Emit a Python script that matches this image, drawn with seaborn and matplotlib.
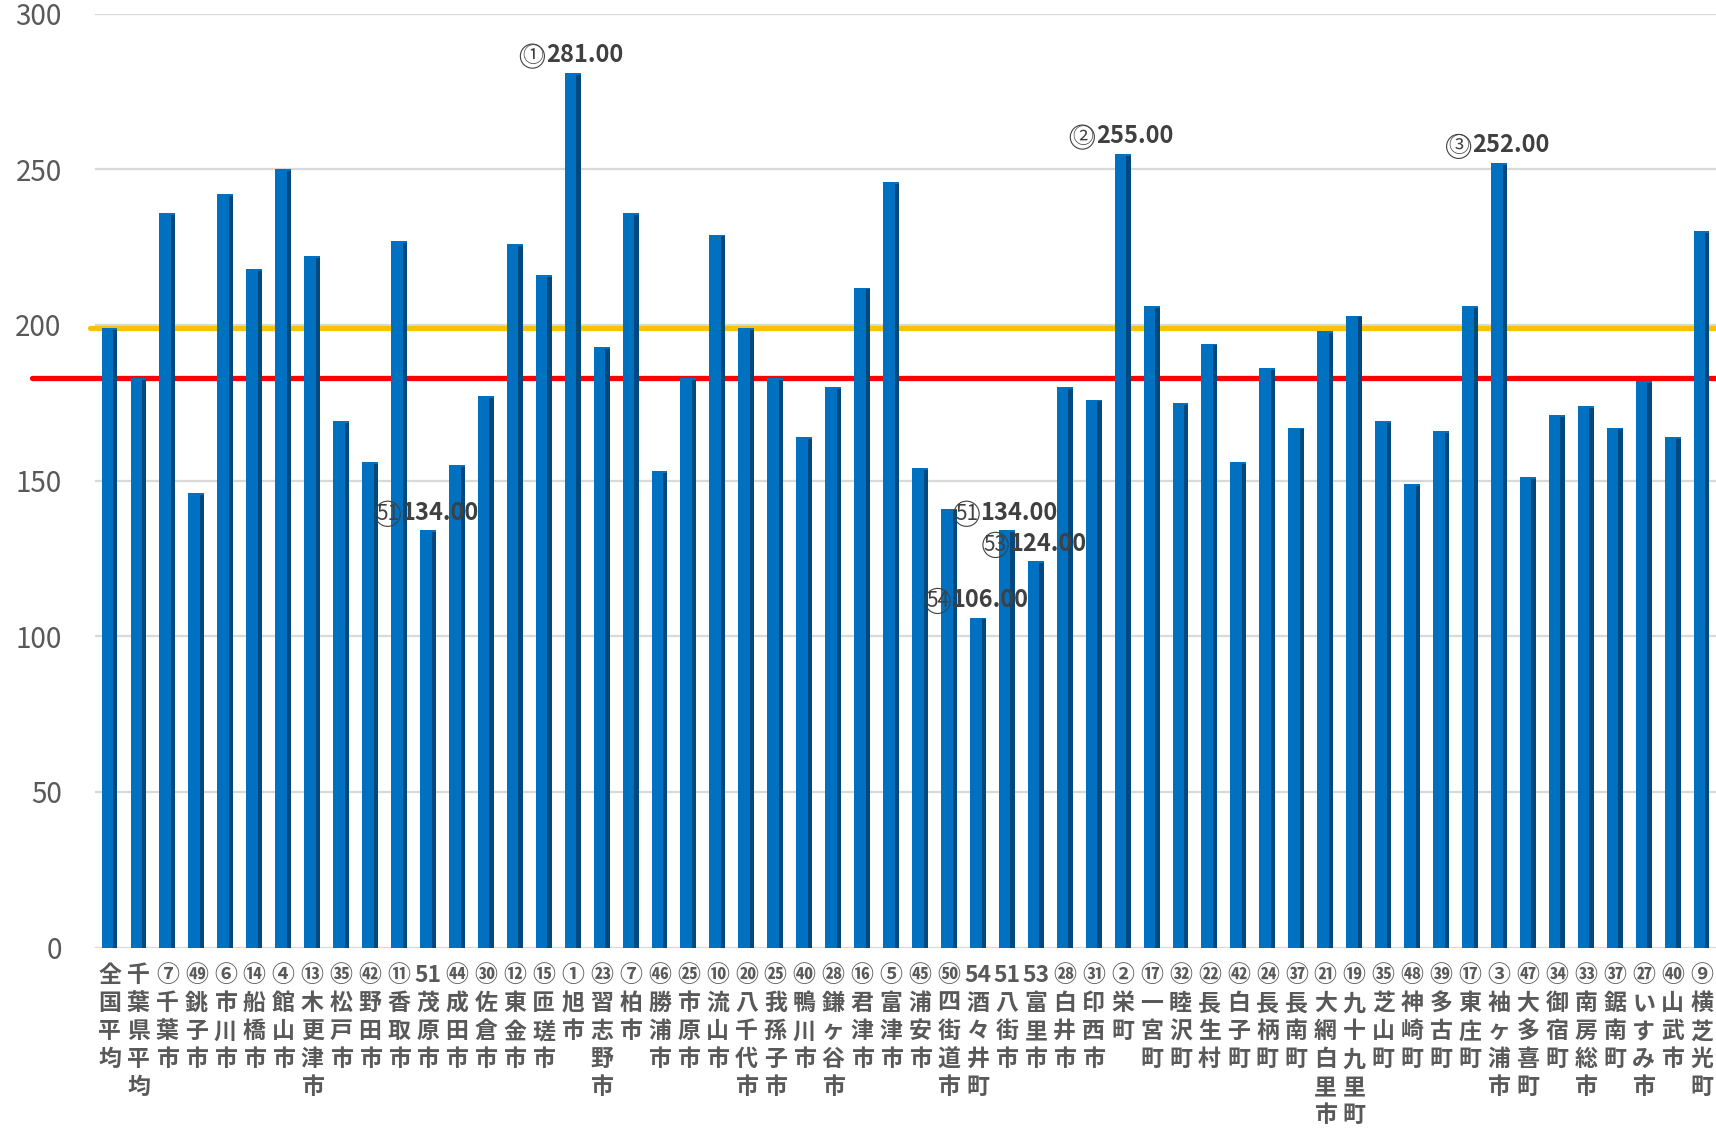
import matplotlib
matplotlib.use("Agg")
import matplotlib.pyplot as plt
import numpy as np
import pandas as pd
import seaborn as sns

# ── Data ──────────────────────────────────────────────────────────────────────

ranks = [
    "", "", "⑦", "㊾", "⑥", "⑭", "④", "⑬", "㉟", "㊷",
    "⑪", "51", "㊹", "㉚", "⑫", "⑮", "①", "㉓", "⑦", "㊻",
    "㉕", "⑩", "⑳", "㉕", "㊵", "㉘", "⑯", "⑤", "㊺", "㊿",
    "54", "51", "53", "㉘", "㉛", "②", "⑰", "㉜", "㉒", "㊷",
    "㉔", "㊲", "㉑", "⑲", "㉟", "㊽", "㊴", "⑰", "③", "㊼",
    "㉞", "㉝", "㊲", "㉗", "㊵", "⑨",
]

names = [
    "全国平均", "千葉県平均", "千葉市", "銚子市", "市川市", "船橋市", "館山市", "木更津市", "松戸市", "野田市",
    "香取市", "茂原市", "成田市", "佐倉市", "東金市", "匝瑳市", "旭市", "習志野市", "柏市", "勝浦市",
    "市原市", "流山市", "八千代市", "我孫子市", "鴨川市", "鎌ヶ谷市", "君津市", "富津市", "浦安市", "四街道市",
    "酒々井町", "八街市", "富里市", "白井市", "印西市", "栄町", "一宮町", "睦沢町", "長生村", "白子町",
    "長柄町", "長南町", "大網白里市", "九十九里町", "芝山町", "神崎町", "多古町", "東庄町", "袖ヶ浦市", "大多喜町",
    "御宿町", "南房総市", "鋸南町", "いすみ市", "山武市", "横芝光町",
]

values = [
    199, 183, 236, 146, 242, 218, 250, 222, 169, 156,
    227, 134, 155, 177, 226, 216, 281, 193, 236, 153,
    183, 229, 199, 183, 164, 180, 212, 246, 154, 141,
    106, 134, 124, 180, 176, 255, 206, 175, 194, 156,
    186, 167, 198, 203, 169, 149, 166, 206, 252, 151,
    171, 174, 167, 182, 164, 230,
]

# bars that carry a value label (top 3 and bottom 4)
labelled = ["旭市", "栄町", "袖ヶ浦市", "茂原市", "八街市", "富里市", "酒々井町"]

yticks = [0, 50, 100, 150, 200, 250, 300]

# ── Plot ──────────────────────────────────────────────────────────────────────

sns.set_theme(style="white")
plt.rcParams["font.family"] = ["Noto Sans CJK JP", "DejaVu Sans"]

df = pd.DataFrame({"label": names, "value": values})
n = len(df)
x = np.arange(n)

fig = plt.figure(figsize=(17.16, 11.28), dpi=100)
ax = fig.add_axes([0.0554, 0.160, 0.9446, 0.828])

ax.set_ylim(0, 300)
ax.set_xlim(-0.5, n - 0.5)
ax.set_yticks(yticks)
ax.yaxis.grid(True, color="#D9D9D9", linewidth=1.6, zorder=0)
ax.set_axisbelow(True)

sns.barplot(data=df, x="label", y="value", color="#0070C0", saturation=1,
            width=0.55, linewidth=0, ax=ax, zorder=3)
# darker right-hand face for the 3D look
ax.bar(x + 0.20, df["value"] - 0.6, width=0.15, color="#00497F", linewidth=0, zorder=4)

# average lines
ax.axhline(values[0], xmin=-0.003, xmax=1, color="#FFC000", linewidth=3.8,
           clip_on=False, zorder=2)
ax.axhline(values[1], xmin=-0.039, xmax=1, color="#FF0000", linewidth=3.8,
           clip_on=False, zorder=2)

# value labels
for i, (name, val) in enumerate(zip(names, values)):
    if name not in labelled:
        continue
    r = ranks[i]
    if r.isdigit():
        # no unicode glyph for circled 51+, draw the circle ourselves
        ax.annotate(f"{val:.2f}", (i, val), xytext=(-19, 4), textcoords="offset points",
                    ha="left", va="bottom", fontsize=17, fontweight="bold",
                    color="#404040", zorder=6)
        ax.annotate(r, (i, val), xytext=(-29, 4), textcoords="offset points",
                    ha="center", va="bottom", fontsize=15, color="#404040", zorder=6,
                    bbox=dict(boxstyle="circle,pad=0.05", fc="none", ec="#404040", lw=0.8))
    else:
        ax.annotate(f"{r}{val:.2f}", (i, val), xytext=(0, 4), textcoords="offset points",
                    ha="center", va="bottom", fontsize=17, fontweight="bold",
                    color="#404040", zorder=6)

xlabels = ["\n".join(([r] if r else []) + list(nm)) for r, nm in zip(ranks, names)]
ax.set_xticks(x)
ax.set_xticklabels(xlabels, fontsize=16.5, fontweight="bold", color="#595959",
                   linespacing=1.28, va="top")
ax.tick_params(axis="x", length=0, pad=12)
ax.tick_params(axis="y", length=0, pad=24, labelsize=20, labelcolor="#595959")
ax.set_xlabel("")
ax.set_ylabel("")
for s in ax.spines.values():
    s.set_visible(False)

fig.savefig("out.png", dpi=100)
plt.close("all")
